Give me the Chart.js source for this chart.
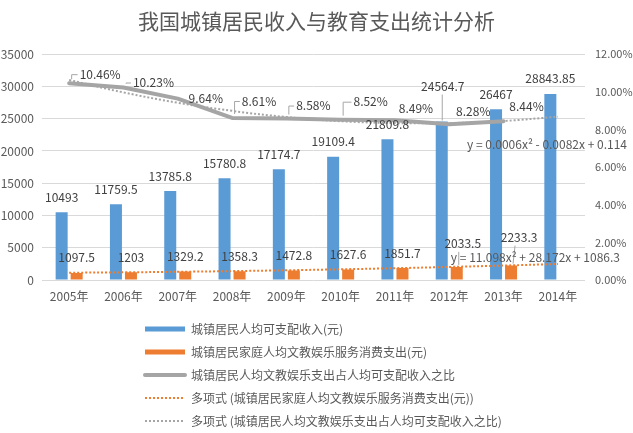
<!DOCTYPE html>
<html>
<head>
<meta charset="utf-8">
<script src="https://cdn.jsdelivr.net/npm/chart.js@4.4.1/dist/chart.umd.min.js"></script>
<style>
  html, body { margin: 0; padding: 0; background: #ffffff; }
  canvas { display: block; }
</style>
</head>
<body>
<canvas id="c" width="633" height="433"></canvas>
<script>
// ---------- data ----------
const categories = ['2005年', '2006年', '2007年', '2008年', '2009年', '2010年', '2011年', '2012年', '2013年', '2014年'];
const incomeValues = [10493, 11759.5, 13785.8, 15780.8, 17174.7, 19109.4, 21809.8, 24564.7, 26467, 28843.85];
const cultureSpending = [1097.5, 1203, 1329.2, 1358.3, 1472.8, 1627.6, 1851.7, 2033.5, 2233.3, null];
const spendingRatio = [10.46, 10.23, 9.64, 8.61, 8.58, 8.52, 8.49, 8.28, 8.44, null];
const spendingTrend = [1126, 1187, 1271, 1377, 1505, 1655, 1827, 2022, 2239, 2478];
const ratioTrend = [10.63, 9.97, 9.42, 8.99, 8.66, 8.44, 8.34, 8.34, 8.45, 8.68];
const leftTicks = [0, 5000, 10000, 15000, 20000, 25000, 30000, 35000];
const rightTicks = [0, 2, 4, 6, 8, 10, 12];
const seriesNames = [
  '城镇居民人均可支配收入(元)',
  '城镇居民家庭人均文教娱乐服务消费支出(元)',
  '城镇居民人均文教娱乐支出占人均可支配收入之比',
  '多项式 (城镇居民家庭人均文教娱乐服务消费支出(元))',
  '多项式 (城镇居民人均文教娱乐支出占人均可支配收入之比)'
];
const titleText = '我国城镇居民收入与教育支出统计分析';
const ratioEquation = 'y = 0.0006x² - 0.0082x + 0.114';
const spendingEquation = 'y = 11.098x² + 28.172x + 1086.3';

// ---------- style ----------
const FONT = '"Noto Sans CJK SC", "Noto Sans", sans-serif';
const BLUE = '#5B9BD5', ORANGE = '#ED7D31', GRAY = '#A5A5A5';
const TEXT = '#595959', LABEL = '#404040', GRID = '#D9D9D9', LEADER = '#A6A6A6';

Chart.defaults.font.family = FONT;
Chart.defaults.font.size = 12;
Chart.defaults.color = TEXT;

// label offsets (px) relative to the mark; third item = leader type
const labelStyles = [
  { dataset: 0, def: [0, -15], offsets: { 7: [1, -35, 'v'] }, format: v => String(v) },
  { dataset: 1, def: [0, -15], offsets: { 7: [6, -23, 'd'], 8: [8, -28, 'd'] }, format: v => String(v) },
  { dataset: 2, def: [24, -13], offsets: {
      0: [31, -9, 'e'], 1: [30, -5, 'e'], 2: [28, 0], 3: [27, -17, 'e'], 4: [27, -13, 'e'],
      5: [30, -18, 'e'], 6: [21, -12], 7: [24, -13], 8: [23, -15] },
    format: v => v.toFixed(2) + '%' }
];

const valueLabels = {
  id: 'valueLabels',
  afterDatasetsDraw(chart) {
    const ctx = chart.ctx;
    ctx.save();
    ctx.font = '12px ' + FONT;
    ctx.textAlign = 'center';
    ctx.textBaseline = 'middle';
    labelStyles.forEach(spec => {
      const meta = chart.getDatasetMeta(spec.dataset);
      const data = chart.data.datasets[spec.dataset].data;
      meta.data.forEach((el, i) => {
        const v = data[i];
        if (v === null || v === undefined) return;
        const off = spec.offsets[i] || spec.def;
        const text = spec.format(v);
        const lx = el.x + off[0], ly = el.y + off[1];
        const w = ctx.measureText(text).width;
        if (off[2]) {
          ctx.strokeStyle = LEADER;
          ctx.lineWidth = 1;
          ctx.beginPath();
          if (off[2] === 'v') {
            ctx.moveTo(lx - 0.5, ly + 8);
            ctx.lineTo(lx - 0.5, el.y - 1);
          } else if (off[2] === 'd') {
            ctx.moveTo(lx - 4, ly + 8);
            ctx.lineTo(el.x + 2, el.y - 2);
          } else if (off[2] === 'e') {
            const left = lx - w / 2 - 2;
            ctx.moveTo(el.x + 2.5, el.y - 4);
            ctx.lineTo(el.x + 2.5, ly + 0.5);
            ctx.lineTo(left, ly + 0.5);
          }
          ctx.stroke();
        }
        ctx.fillStyle = LABEL;
        ctx.fillText(text, lx, ly);
      });
    });
    ctx.restore();
  },
  afterDraw(chart) {
    const ctx = chart.ctx, a = chart.chartArea;
    ctx.save();
    ctx.font = '12px ' + FONT;
    ctx.fillStyle = TEXT;
    ctx.textAlign = 'right';
    ctx.textBaseline = 'middle';
    ctx.fillText(ratioEquation, a.right + 42, a.top + 90);
    ctx.fillText(spendingEquation, a.right + 35, a.top + 203);
    ctx.restore();
  }
};

const legendPlace = {
  id: 'legendPlace',
  afterLayout(chart) {
    const lg = chart.legend;
    if (!lg) return;
    lg.left = 134; lg.right = 633;
    lg.top = 312; lg.bottom = 480;
    lg.width = lg.right - lg.left;
    lg.height = lg.bottom - lg.top;
  }
};

new Chart(document.getElementById('c'), {
  data: {
    labels: categories,
    datasets: [
      { type: 'bar', label: seriesNames[0], data: incomeValues, backgroundColor: BLUE, yAxisID: 'y', order: 4,
        barPercentage: 0.8, categoryPercentage: 0.553 },
      { type: 'bar', label: seriesNames[1], data: cultureSpending, backgroundColor: ORANGE, yAxisID: 'y', order: 5,
        barPercentage: 0.8, categoryPercentage: 0.553 },
      { type: 'line', label: seriesNames[2], data: spendingRatio, borderColor: GRAY, backgroundColor: GRAY,
        borderWidth: 4, pointRadius: 0, pointHoverRadius: 0, tension: 0, yAxisID: 'y1', order: 2,
        borderCapStyle: 'round', borderJoinStyle: 'round' },
      { type: 'line', label: seriesNames[3], data: spendingTrend, borderColor: ORANGE, backgroundColor: ORANGE,
        borderWidth: 2, borderDash: [2, 2], pointRadius: 0, pointHoverRadius: 0, tension: 0.4, yAxisID: 'y', order: 1 },
      { type: 'line', label: seriesNames[4], data: ratioTrend, borderColor: GRAY, backgroundColor: GRAY,
        borderWidth: 2, borderDash: [2, 2], pointRadius: 0, pointHoverRadius: 0, tension: 0.4, yAxisID: 'y1', order: 3 }
    ]
  },
  options: {
    responsive: false,
    animation: false,
    devicePixelRatio: 1,
    layout: { padding: { left: 0, right: 0, top: 0, bottom: 130 } },
    plugins: {
      tooltip: { enabled: false },
      title: {
        display: true, text: titleText, color: TEXT,
        font: { size: 21, weight: 'normal', family: FONT },
        padding: { top: 8, bottom: 21 }
      },
      legend: {
        position: 'chartArea',
        align: 'start',
        labels: {
          usePointStyle: true,
          pointStyleWidth: 40,
          boxHeight: 5,
          padding: 11,
          color: TEXT,
          font: { size: 12, family: FONT },
          sort: (a, b) => a.datasetIndex - b.datasetIndex,
          generateLabels(chart) {
            const items = Chart.defaults.plugins.legend.labels.generateLabels(chart);
            items.forEach(it => {
              const ds = chart.data.datasets[it.datasetIndex];
              if (ds.type === 'bar') {
                it.pointStyle = 'rect';
                it.lineWidth = 0;
              } else {
                it.pointStyle = 'line';
                it.lineWidth = ds.borderWidth;
                it.lineDash = ds.borderDash || [];
                it.lineCap = ds.borderCapStyle || 'butt';
                it.strokeStyle = ds.borderColor;
              }
            });
            return items;
          }
        }
      }
    },
    scales: {
      x: {
        grid: { display: false, drawTicks: false },
        border: { display: false },
        ticks: { padding: 9, color: TEXT, maxRotation: 0, autoSkip: false, font: { size: 12 } },
        afterFit: s => { s.height = 23; }
      },
      y: {
        position: 'left', min: 0, max: 35000,
        grid: { color: GRID, drawTicks: false, lineWidth: 1 },
        border: { display: false },
        ticks: { padding: 8, color: TEXT, font: { size: 12 }, callback: v => String(v) },
        afterBuildTicks: s => { s.ticks = leftTicks.map(v => ({ value: v })); },
        afterFit: s => { s.width = 42; }
      },
      y1: {
        position: 'right', min: 0, max: 12,
        grid: { drawOnChartArea: false, drawTicks: false },
        border: { display: false },
        ticks: { padding: 10, color: TEXT, font: { size: 11 }, callback: v => Number(v).toFixed(2) + '%' },
        afterBuildTicks: s => { s.ticks = rightTicks.map(v => ({ value: v })); },
        afterFit: s => { s.width = 48; }
      }
    }
  },
  plugins: [valueLabels, legendPlace]
});
</script>
</body>
</html>
